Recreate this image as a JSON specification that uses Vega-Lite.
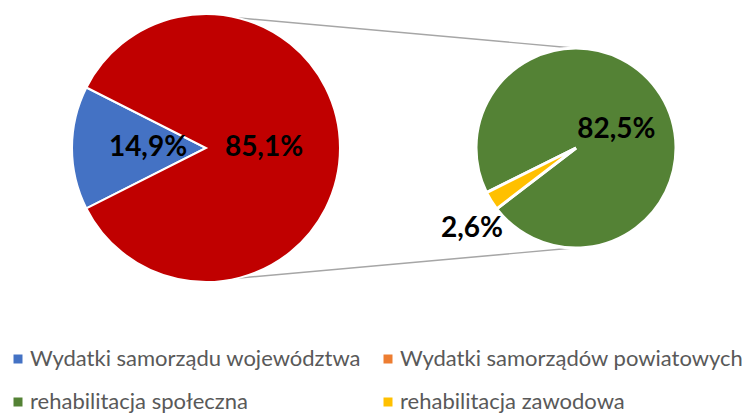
{
  "$schema": "https://vega.github.io/schema/vega-lite/v6.json",
  "width": 752,
  "height": 296,
  "padding": 0,
  "background": "white",
  "config": {"view": {"stroke": null}, "font": "Lato"},
  "datasets": {
    "slices": [
      {"pie": "left", "category": "Wydatki samorządu województwa", "share": 14.9, "label": "14,9%"},
      {"pie": "left", "category": "Inne", "share": 85.1, "label": "85,1%"},
      {"pie": "right", "category": "rehabilitacja społeczna", "share": 82.5, "label": "82,5%"},
      {"pie": "right", "category": "rehabilitacja zawodowa", "share": 2.6, "label": "2,6%"}
    ],
    "links": [
      {"edge": "top", "pie": "left", "reach": 1},
      {"edge": "top", "pie": "right", "reach": 0.75},
      {"edge": "bottom", "pie": "left", "reach": -1},
      {"edge": "bottom", "pie": "right", "reach": -0.75}
    ]
  },
  "layer": [
    {
      "data": {"name": "links"},
      "mark": {"type": "line", "color": "#A6A6A6", "strokeWidth": 1.4},
      "encoding": {
        "x": {"field": "pie", "type": "nominal", "scale": {"type": "point", "domain": ["left", "right"], "range": [206, 576], "padding": 0}, "axis": null},
        "y": {"field": "reach", "type": "quantitative", "scale": {"domain": [-1, 1], "range": [281, 15]}, "axis": null},
        "detail": {"field": "edge"}
      }
    },
    {
      "data": {"name": "slices"},
      "transform": [{"filter": "datum.pie === 'left'"}],
      "encoding": {
        "x": {"field": "pie", "type": "nominal", "scale": {"type": "point", "domain": ["left", "right"], "range": [206, 576], "padding": 0}, "axis": null},
        "theta": {"field": "share", "type": "quantitative", "stack": true, "scale": {"range": [4.2446, 10.5278]}},
        "order": {"field": "category", "sort": "descending"}
      },
      "layer": [
        {
          "mark": {"type": "arc", "radius": 134, "stroke": "white", "strokeWidth": 2},
          "encoding": {
            "color": {
              "field": "category", "type": "nominal",
              "scale": {
                "domain": ["Wydatki samorządu województwa", "Wydatki samorządów powiatowych", "rehabilitacja społeczna", "rehabilitacja zawodowa", "Inne"],
                "range": ["#4472C4", "#ED7D31", "#548235", "#FFC000", "#C00000"]
              },
              "legend": {
                "values": ["Wydatki samorządu województwa", "Wydatki samorządów powiatowych", "rehabilitacja społeczna", "rehabilitacja zawodowa"],
                "title": null, "orient": "none", "direction": "horizontal", "legendX": 7, "legendY": 348, "columns": 2,
                "symbolType": "square", "symbolSize": 81, "symbolStrokeWidth": 0,
                "labelFont": "Lato", "labelFontSize": 22, "labelColor": "#595959", "labelLimit": 500,
                "labelOffset": 1, "columnPadding": 16, "rowPadding": 21, "padding": 0
              }
            }
          }
        },
        {
          "mark": {"type": "text", "radius": 58, "font": "Lato", "fontWeight": "bold", "fontSize": 28, "color": "black", "baseline": "middle", "align": "center"},
          "encoding": {"text": {"field": "label"}}
        }
      ]
    },
    {
      "data": {"name": "slices"},
      "transform": [{"filter": "datum.pie === 'right'"}],
      "encoding": {
        "x": {"field": "pie", "type": "nominal", "scale": {"type": "point", "domain": ["left", "right"], "range": [206, 576], "padding": 0}, "axis": null},
        "theta": {"field": "share", "type": "quantitative", "stack": true, "scale": {"range": [4.0579, 10.3411]}},
        "order": {"field": "category", "sort": "descending"}
      },
      "layer": [
        {
          "mark": {"type": "arc", "radius": 100, "stroke": "white", "strokeWidth": 3},
          "encoding": {
            "color": {
              "field": "category", "type": "nominal",
              "scale": {
                "domain": ["Wydatki samorządu województwa", "Wydatki samorządów powiatowych", "rehabilitacja społeczna", "rehabilitacja zawodowa", "Inne"],
                "range": ["#4472C4", "#ED7D31", "#548235", "#FFC000", "#C00000"]
              }
            }
          }
        },
        {
          "mark": {"type": "text", "radius": 44, "dx": 3, "dy": 5, "font": "Lato", "fontWeight": "bold", "fontSize": 28, "color": "black", "baseline": "middle", "align": "center"},
          "encoding": {"text": {"condition": {"test": "datum.category === 'rehabilitacja społeczna'", "field": "label"}, "value": ""}}
        },
        {
          "mark": {"type": "text", "radius": 131, "dx": 7, "dy": 12, "font": "Lato", "fontWeight": "bold", "fontSize": 28, "color": "black", "baseline": "middle", "align": "center"},
          "encoding": {"text": {"condition": {"test": "datum.category === 'rehabilitacja zawodowa'", "field": "label"}, "value": ""}}
        }
      ]
    }
  ],
  "resolve": {"scale": {"theta": "independent"}}
}
